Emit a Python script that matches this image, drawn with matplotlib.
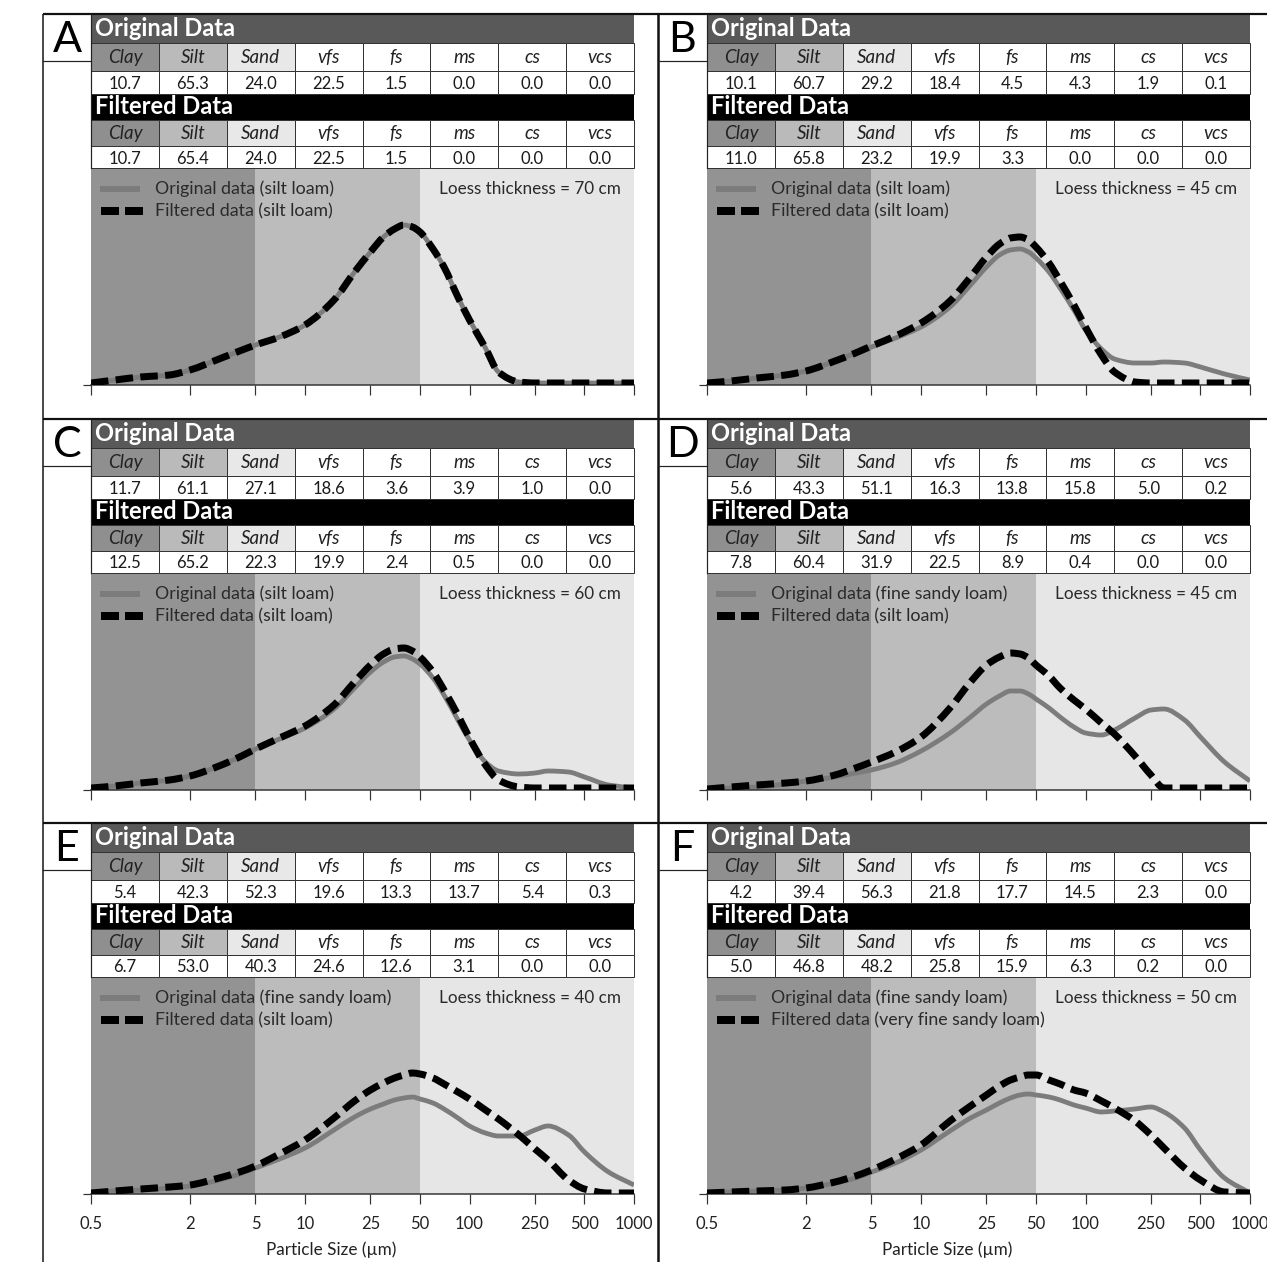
import numpy as np
import matplotlib
matplotlib.use('Agg')
import matplotlib.pyplot as plt
from matplotlib.patches import Rectangle, PathPatch
from matplotlib.path import Path
from matplotlib.ticker import NullLocator

plt.rcParams['font.family'] = ['Lato', 'DejaVu Sans']

W, H = 1267, 1262
DPI = 100

# ---------------- data ----------------
columns = ['Clay', 'Silt', 'Sand', 'vfs', 'fs', 'ms', 'cs', 'vcs']
xticks = [0.5, 2, 5, 10, 25, 50, 100, 250, 500, 1000]
xtick_labels = ['0.5', '2', '5', '10', '25', '50', '100', '250', '500', '1000']
panel_letters = ['A', 'B', 'C', 'D', 'E', 'F']
loess_thickness = [70, 45, 60, 45, 40, 50]
original_texture = ['silt loam', 'silt loam', 'silt loam',
                    'fine sandy loam', 'fine sandy loam', 'fine sandy loam']
filtered_texture = ['silt loam', 'silt loam', 'silt loam',
                    'silt loam', 'silt loam', 'very fine sandy loam']

a_original_table = [10.7, 65.3, 24.0, 22.5, 1.5, 0.0, 0.0, 0.0]
a_filtered_table = [10.7, 65.4, 24.0, 22.5, 1.5, 0.0, 0.0, 0.0]
b_original_table = [10.1, 60.7, 29.2, 18.4, 4.5, 4.3, 1.9, 0.1]
b_filtered_table = [11.0, 65.8, 23.2, 19.9, 3.3, 0.0, 0.0, 0.0]
c_original_table = [11.7, 61.1, 27.1, 18.6, 3.6, 3.9, 1.0, 0.0]
c_filtered_table = [12.5, 65.2, 22.3, 19.9, 2.4, 0.5, 0.0, 0.0]
d_original_table = [5.6, 43.3, 51.1, 16.3, 13.8, 15.8, 5.0, 0.2]
d_filtered_table = [7.8, 60.4, 31.9, 22.5, 8.9, 0.4, 0.0, 0.0]
e_original_table = [5.4, 42.3, 52.3, 19.6, 13.3, 13.7, 5.4, 0.3]
e_filtered_table = [6.7, 53.0, 40.3, 24.6, 12.6, 3.1, 0.0, 0.0]
f_original_table = [4.2, 39.4, 56.3, 21.8, 17.7, 14.5, 2.3, 0.0]
f_filtered_table = [5.0, 46.8, 48.2, 25.8, 15.9, 6.3, 0.2, 0.0]

# particle sizes (um) at which the curves were read
sizes = [0.5, 0.7, 1, 1.5, 2, 3, 4, 5, 7, 10, 15, 20, 25, 30, 35, 40, 45, 50,
         60, 70, 85, 100, 125, 150, 200, 250, 300, 400, 500, 700, 1000]

# relative frequency (arbitrary units)
a_original_curve = [2, 5, 8, 10, 15, 26, 34, 40, 48, 60, 85, 113, 133, 148, 156, 160, 158, 153,
                    136, 118, 88, 65, 37, 13, 3, 2, 2, 2, 2, 2, 2]
a_filtered_curve = [2, 5, 8, 10, 15, 26, 34, 40, 48, 60, 85, 113, 133, 148, 156, 160, 158, 153,
                    136, 118, 88, 65, 37, 13, 3, 2, 2, 2, 2, 2, 2]
b_original_curve = [2, 4, 7, 10, 14, 24, 32, 38, 47, 58, 78, 100, 118, 130, 135, 136, 133, 127,
                    113, 97, 75, 55, 36, 26, 22, 22, 23, 22, 18, 11, 5]
b_filtered_curve = [2, 4, 7, 10, 14, 24, 32, 39, 49, 62, 84, 108, 128, 141, 147, 148, 145, 138,
                    122, 104, 80, 58, 30, 13, 3, 2, 2, 2, 2, 2, 2]
c_original_curve = [2, 4, 7, 10, 14, 24, 33, 41, 51, 62, 81, 102, 118, 128, 133, 134, 131, 126,
                    112, 95, 70, 50, 28, 19, 16, 17, 19, 18, 13, 5, 2]
c_filtered_curve = [2, 4, 7, 10, 14, 24, 33, 41, 52, 64, 85, 108, 125, 136, 141, 142, 139, 133,
                    118, 100, 75, 52, 25, 10, 3, 2, 2, 2, 2, 2, 2]
d_original_curve = [1, 2, 3, 6, 9, 13, 17, 20, 27, 39, 57, 73, 86, 94, 99, 99, 96, 91,
                    82, 73, 63, 57, 55, 60, 72, 80, 81, 70, 53, 28, 9]
d_filtered_curve = [1, 3, 5, 7, 9, 15, 22, 28, 38, 53, 82, 108, 125, 133, 137, 136, 132, 125,
                    114, 102, 90, 81, 67, 56, 34, 15, 2, 2, 2, 2, 2]
e_original_curve = [2, 3, 4, 6, 8, 14, 20, 26, 35, 46, 64, 77, 85, 90, 94, 96, 97, 95,
                    91, 85, 76, 68, 61, 58, 58, 64, 68, 59, 42, 22, 9]
e_filtered_curve = [1, 3, 5, 7, 9, 16, 22, 28, 40, 54, 76, 93, 104, 111, 116, 119, 121, 120,
                    116, 110, 102, 95, 84, 75, 59, 45, 34, 14, 5, 1, 1]
f_original_curve = [2, 2, 3, 4, 6, 11, 16, 22, 31, 44, 63, 76, 84, 91, 96, 99, 100, 99,
                    97, 94, 89, 86, 82, 83, 85, 87, 82, 66, 44, 16, 1]
f_filtered_curve = [1, 2, 3, 4, 6, 12, 18, 24, 35, 49, 73, 88, 99, 108, 114, 117, 119, 119,
                    114, 110, 104, 101, 93, 86, 73, 59, 46, 26, 14, 2, 1]

original_tables = [a_original_table, b_original_table, c_original_table,
                   d_original_table, e_original_table, f_original_table]
filtered_tables = [a_filtered_table, b_filtered_table, c_filtered_table,
                   d_filtered_table, e_filtered_table, f_filtered_table]
original_curves = [a_original_curve, b_original_curve, c_original_curve,
                   d_original_curve, e_original_curve, f_original_curve]
filtered_curves = [a_filtered_curve, b_filtered_curve, c_filtered_curve,
                   d_filtered_curve, e_filtered_curve, f_filtered_curve]

# ---------------- style / layout ----------------
def pt(pixels):
    return pixels * 72.0 / DPI


def smooth_path(xs, ys):
    """Smoothed-line path (cubic Bezier through every data point, log-x)."""
    lx = np.log10(np.asarray(xs, float))
    y = np.asarray(ys, float)
    n = len(lx)
    d = np.diff(y) / np.diff(lx)
    m = np.zeros(n)
    m[0], m[-1] = d[0], d[-1]
    for k in range(1, n - 1):
        if d[k - 1] * d[k] <= 0:
            m[k] = 0.0
        else:
            h0, h1 = lx[k] - lx[k - 1], lx[k + 1] - lx[k]
            w1, w2 = 2 * h1 + h0, h1 + 2 * h0
            m[k] = (w1 + w2) / (w1 / d[k - 1] + w2 / d[k])
    verts = [(10 ** lx[0], y[0])]
    codes = [Path.MOVETO]
    for k in range(n - 1):
        h = lx[k + 1] - lx[k]
        c1 = (10 ** (lx[k] + h / 3), y[k] + m[k] * h / 3)
        c2 = (10 ** (lx[k + 1] - h / 3), y[k + 1] - m[k + 1] * h / 3)
        verts += [c1, c2, (10 ** lx[k + 1], y[k + 1])]
        codes += [Path.CURVE4] * 3
    return Path(verts, codes)


CLAY_C, SILT_C, SAND_C = '#939393', '#bcbcbc', '#e6e6e6'
cell_colors = ['#8f8f8f', '#bababa', '#e8e8e8'] + ['white'] * 5
ORIG_C = '#7c7c7c'
LINE_C = '#333333'

col_left = [43, 658]
tab_left = [91, 707]
row_top = [14, 419, 823]
TW = 543
CW = TW / 8.0
PLOT_TOP, PLOT_BOT = 154, 371

fig = plt.figure(figsize=(W / DPI, H / DPI), dpi=DPI)
fig.patch.set_facecolor('white')

for i in range(6):
    c, r = i % 2, i // 2
    L, T = tab_left[c], row_top[r]
    ax = fig.add_axes([L / W, 1 - (T + PLOT_BOT) / H, TW / W, (PLOT_BOT - PLOT_TOP) / H])
    ax.set_xscale('log')
    ax.set_xlim(0.5, 1000)
    ax.set_ylim(0, PLOT_BOT - PLOT_TOP)
    ax.axvspan(0.5, 5, color=CLAY_C, lw=0, zorder=0)
    ax.axvspan(5, 50, color=SILT_C, lw=0, zorder=0)
    ax.axvspan(50, 1000, color=SAND_C, lw=0, zorder=0)
    p1 = PathPatch(smooth_path(sizes, original_curves[i]), fill=False, ec=ORIG_C,
                   lw=pt(4.8), capstyle='butt', joinstyle='round', zorder=2)
    ax.add_patch(p1)
    p2 = PathPatch(smooth_path(sizes, filtered_curves[i]), fill=False, ec='black',
                   lw=pt(7), linestyle=(0, (2.5, 1.05)), capstyle='butt', zorder=3)
    ax.add_patch(p2)
    for s in ['top', 'right', 'left']:
        ax.spines[s].set_visible(False)
    ax.spines['bottom'].set_color(LINE_C)
    ax.spines['bottom'].set_linewidth(pt(1.5))
    ax.set_xticks(xticks)
    ax.xaxis.set_minor_locator(NullLocator())
    ax.set_yticks([0])
    ax.tick_params(axis='y', length=pt(8), width=pt(1.2), color=LINE_C, labelleft=False)
    ax.tick_params(axis='x', which='major', length=pt(10), width=pt(1.2),
                   color=LINE_C, direction='out', pad=8.6)
    if r == 2:
        ax.set_xticklabels(xtick_labels, fontsize=12, color='#222222')
    else:
        ax.set_xticklabels([])

# overlay canvas in pixel coordinates
cv = fig.add_axes([0, 0, 1, 1])
cv.set_xlim(0, W)
cv.set_ylim(H, 0)
cv.axis('off')
cv.set_zorder(10)
cv.patch.set_alpha(0)

# frame lines
cv.plot([43, W], [14, 14], color='#111111', lw=pt(2.2), solid_capstyle='butt')
cv.plot([43, 43], [14, H], color='#111111', lw=pt(1.5), solid_capstyle='butt')
cv.plot([658, 658], [14, H], color='#111111', lw=pt(2.5), solid_capstyle='butt')
for y in [419, 823]:
    cv.plot([43, W], [y, y], color='#111111', lw=pt(2.2), solid_capstyle='butt')

for i in range(6):
    c, r = i % 2, i // 2
    L, T, CL = tab_left[c], row_top[r], col_left[c]
    # letter box
    cv.plot([CL, L], [T + 47, T + 47], color='#222222', lw=pt(1.2))
    cv.plot([L - 0.5, L - 0.5], [T, T + PLOT_TOP], color='#222222', lw=pt(1.2))
    cv.text((CL + L) / 2.0, T + 26, panel_letters[i], fontsize=31, ha='center', va='center',
            color='black')
    # headers
    cv.add_patch(Rectangle((L, T + 1), TW, 28, fc='#595959', ec='none'))
    cv.text(L + 4, T + 14.5, 'Original Data', fontsize=17, fontweight='bold', color='white',
            ha='left', va='center')
    cv.add_patch(Rectangle((L, T + 80), TW, 26, fc='black', ec='none'))
    cv.text(L + 4, T + 92.5, 'Filtered Data', fontsize=17, fontweight='bold', color='white',
            ha='left', va='center')
    for y0, yv, tab in [(T + 29, T + 57, original_tables[i]), (T + 106, T + 132, filtered_tables[i])]:
        lab_h = yv - y0
        val_h = 23 if y0 == T + 29 else 22
        for j in range(8):
            x0 = L + j * CW
            cv.add_patch(Rectangle((x0, y0), CW, lab_h, fc=cell_colors[j], ec=LINE_C, lw=pt(1)))
            cv.text(x0 + CW / 2, y0 + lab_h / 2 + 0.5, columns[j], fontsize=13.5, style='italic',
                    color='#222222', ha='center', va='center')
            cv.add_patch(Rectangle((x0, yv), CW, val_h, fc='white', ec=LINE_C, lw=pt(1)))
            cv.text(x0 + CW / 2, yv + val_h / 2 + 1.5, f'{tab[j]:.1f}', fontsize=12,
                    color='#1a1a1a', ha='center', va='center')
    # legend
    ly1, ly2 = T + 175, T + 197
    cv.plot([L + 9, L + 49], [ly1, ly1], color=ORIG_C, lw=pt(6), solid_capstyle='butt')
    cv.plot([L + 10, L + 52], [ly2, ly2], color='black', lw=pt(8), dashes=(2.25, 0.75),
            dash_capstyle='butt')
    cv.text(L + 64, ly1, f'Original data ({original_texture[i]})', fontsize=12.8,
            color='#2a2a2a', ha='left', va='center')
    cv.text(L + 64, ly2, f'Filtered data ({filtered_texture[i]})', fontsize=12.8,
            color='#2a2a2a', ha='left', va='center')
    cv.text(L + 530, ly1, f'Loess thickness = {loess_thickness[i]} cm', fontsize=12.3,
            color='#2a2a2a', ha='right', va='center')
    if r == 2:
        cv.text(L + 240, 1250, 'Particle Size (µm)', fontsize=12.3, color='#222222',
                ha='center', va='center')

fig.savefig('out.png', dpi=DPI, facecolor='white')
